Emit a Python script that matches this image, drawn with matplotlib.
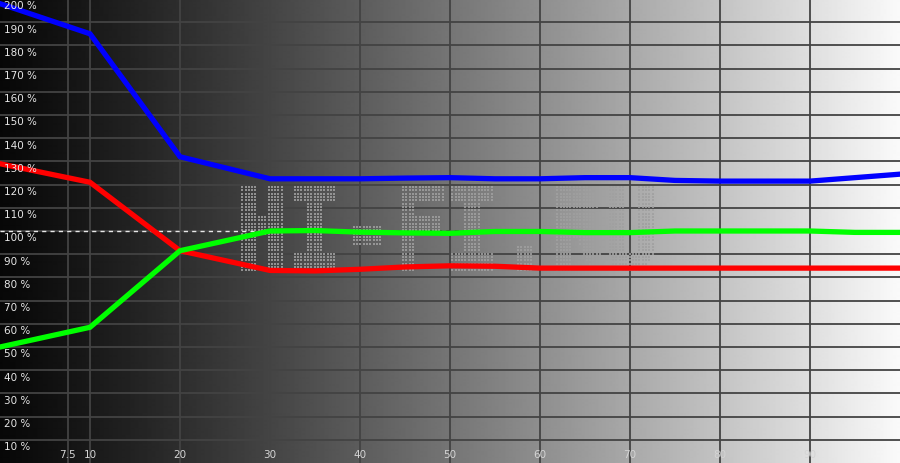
import numpy as np
import matplotlib
matplotlib.use("Agg")
import matplotlib.pyplot as plt
from matplotlib.textpath import TextPath
from matplotlib.font_manager import FontProperties

# Datos (% de nivel por canal)
x_pts = [0, 10, 20, 30, 35, 40, 45, 50, 55, 60, 65, 70, 75, 80, 85, 90, 95, 100]
rojo  = [129, 121, 91.5, 83, 82.8, 83.5, 84.5, 85, 84.8, 84, 84, 84, 84, 84, 84, 84, 84, 84]
verde = [50, 58.5, 91.5, 100, 100.2, 99.5, 99.2, 99, 99.8, 99.8, 99.3, 99.3, 100, 100, 100, 100, 99.4, 99.4]
azul  = [198, 185, 132, 122.5, 122.5, 122.5, 122.8, 123, 122.5, 122.5, 123, 123, 121.8, 121.5, 121.5, 121.5, 123, 124.5]

x_ticks = [7.5, 10, 20, 30, 40, 50, 60, 70, 80, 90]
x_labels = ["7.5", "10", "20", "30", "40", "50", "60", "70", "80", "90"]
y_ticks = list(range(10, 210, 10))

fig = plt.figure(figsize=(9, 4.64), dpi=100)
ax = fig.add_axes([0, 0, 1, 1])
ax.set_xlim(0, 100)
ax.set_ylim(0, 200)
ax.axis('off')

# Fondo degradado negro -> blanco
t = np.linspace(0, 1, 900)
grad = (0.03 + 0.95 * t ** 1.15).reshape(1, -1)
ax.imshow(grad, cmap='gray', vmin=0, vmax=1, extent=[0, 100, 0, 200],
          aspect='auto', zorder=0, interpolation='bilinear')

# Rejilla
for xv in x_ticks:
    ax.axvline(xv, color='#434343', lw=1.3, zorder=1)
for yv in y_ticks[:-1]:
    ax.axhline(yv, color='#434343', lw=1.3, zorder=1)

# Marca de agua en puntos
tp = TextPath((0, 0), "HI-FI.RU", size=10,
              prop=FontProperties(family='DejaVu Sans Mono', weight='bold'))
verts = tp.vertices
bx0, by0 = verts[:, 0].min(), verts[:, 1].min()
bx1, by1 = verts[:, 0].max(), verts[:, 1].max()
gx, gy = np.meshgrid(np.linspace(bx0, bx1, 128), np.linspace(by0, by1, 26))
pts = np.column_stack([gx.ravel(), gy.ravel()])
inside = tp.contains_points(pts, radius=-0.35)
px = 26.2 + (pts[inside, 0] - bx0) / (bx1 - bx0) * (72.5 - 26.2)
py = 83 + (pts[inside, 1] - by0) / (by1 - by0) * (119 - 83)
ax.scatter(px, py, s=3.2, marker='s', color='#a0a0a0', alpha=0.85, lw=0, zorder=2)

# Linea de referencia 100 %
ax.axhline(100, color='#e8e8e8', lw=1, ls=(0, (3, 3)), zorder=3)

# Curvas
ax.plot(x_pts, azul, color='#0000ff', lw=3.8, zorder=4, solid_joinstyle='miter')
ax.plot(x_pts, rojo, color='#ff0000', lw=3.8, zorder=4, solid_joinstyle='miter')
ax.plot(x_pts, verde, color='#00ff00', lw=3.8, zorder=4, solid_joinstyle='miter')

# Etiquetas
for yv in y_ticks:
    ax.text(0.4, yv - 2.8, f"{yv} %", color='#e6e6e6', fontsize=7.5,
            va='center', ha='left', zorder=5)
for xv, lab in zip(x_ticks, x_labels):
    ax.text(xv, 3.9, lab, color='#d4d4d4', fontsize=7.5,
            va='center', ha='center', zorder=5)

plt.savefig("out.png", dpi=100)
